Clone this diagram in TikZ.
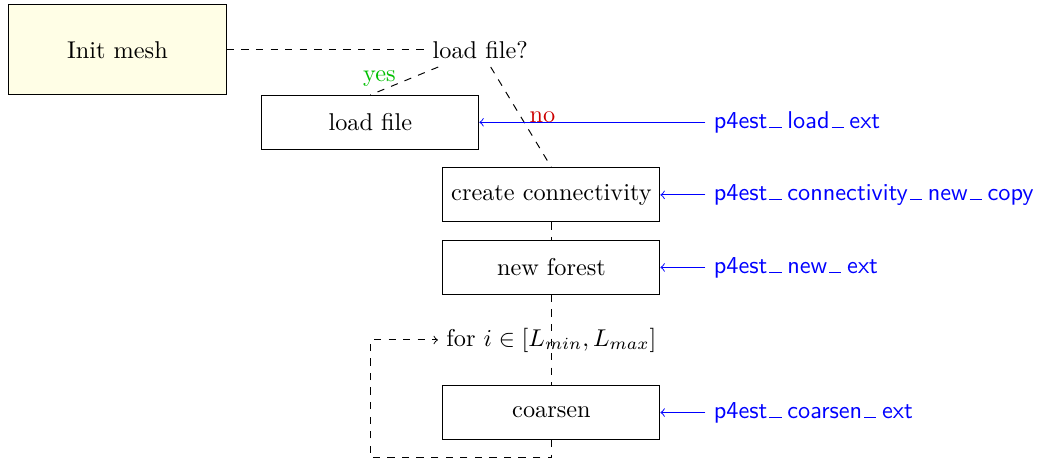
\documentclass[tikz,border=0pt]{standalone}
\usepackage{amsmath,amssymb}
\usepackage{tikz}
\usetikzlibrary{arrows,positioning,calc}
\newcommand{\us}{\kern.08em\rule{.5em}{.4pt}\kern.24em}

\begin{document}
\begin{tikzpicture}[node distance=1.05cm,
    box/.style={draw, rectangle, minimum width=3.14cm, minimum height=0.78cm},
    api/.style={text=blue, font=\sffamily}]
      \useasboundingbox (-6.95,-5.96) rectangle (8.10,0.72);
      \node (query) at (0,0) {load file?};
      \node (init) [draw, rectangle, fill=yellow!10, minimum width=3.15cm, minimum height=1.3cm] at (-5.25,0) {Init mesh};
      \node (loadfile) [box] at (-1.59,-1.05) {load file};
      \node (conn) [box] at (1.03,-2.1) {create connectivity};
      \node (newforest) [box, below of=conn] {new forest};
      \node (loop) [below of=newforest] {for $i \in [L_{min}, L_{max}]$};
      \node (coarsen) [box, below of=loop] {coarsen};

      \node (apiconn) [api, right=0.65cm of conn] {p4est\us connectivity\us new\us copy};
      \node (apiload) [api, anchor=west] at (apiconn.west |- loadfile) {p4est\us load\us ext};
      \node (apinew) [api, right=0.65cm of newforest] {p4est\us new\us ext};
      \node (apicoarsen) [api, right=0.65cm of coarsen] {p4est\us coarsen\us ext};

      \draw [dashed] (init) -- (query);
      \draw [dashed] (query) -- node [midway, left, yshift=1pt, text=green!75!black] {yes} (loadfile.north);
      \draw [dashed] (query) -- node [midway, right, text=red!80!black] {no} (conn.north);
      \draw [dashed] (conn) -- (newforest);
      \draw [dashed] (newforest) -- (coarsen);
      \draw [dashed, ->] (coarsen.south) -- ++(0,-0.26) -| (loadfile |- loop.west) -- (loop.west);

      \draw [->, blue] (apiload) -- (loadfile);
      \draw [->, blue] (apiconn) -- (conn);
      \draw [->, blue] (apinew) -- (newforest);
      \draw [->, blue] (apicoarsen) -- (coarsen);
    \end{tikzpicture}
\end{document}
